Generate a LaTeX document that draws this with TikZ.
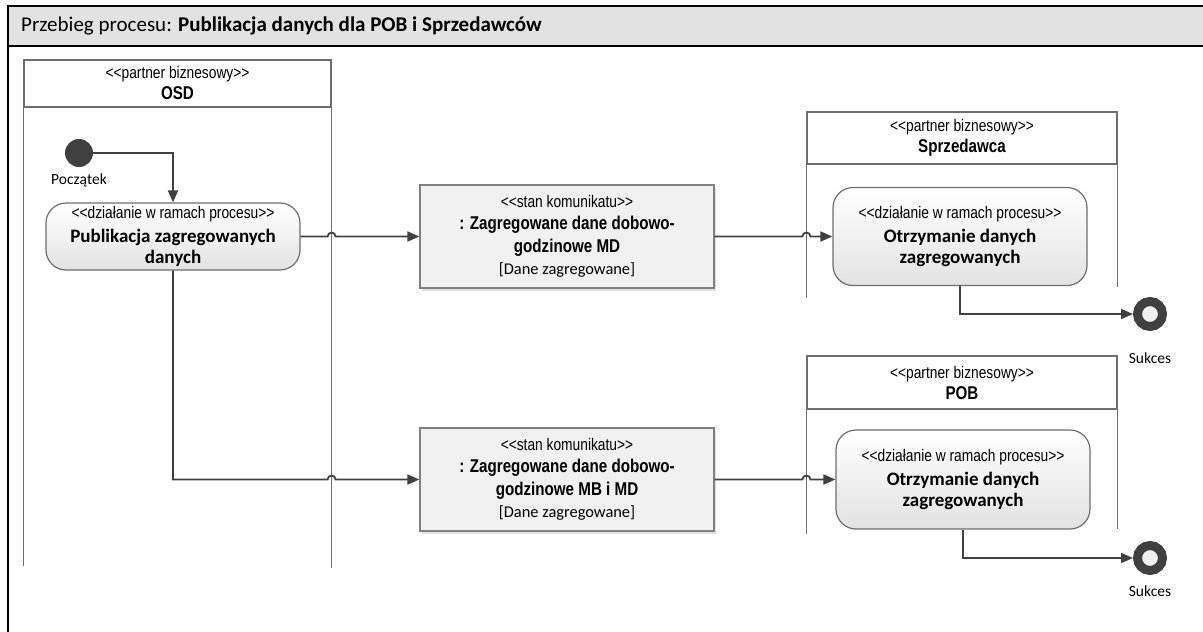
\documentclass[tikz,border=0pt]{standalone}
\usepackage{fontspec}
\setmainfont{Carlito}
\newfontfamily\narrowfont{Liberation Sans}[FakeStretch=0.82]
\usetikzlibrary{arrows.meta,shadows}

\definecolor{lineclr}{HTML}{404040}
\definecolor{laneclr}{HTML}{6E6E6E}
\definecolor{headclr}{HTML}{E2E2E2}
\definecolor{msgclr}{HTML}{F0F0F0}
\definecolor{actclr}{HTML}{E2E2E2}

\newcommand\stereo[1]{{\narrowfont\fontsize{16.8}{20}\selectfont <\kern0pt<#1>\kern0pt>}}
\newcommand\bnarrow{\narrowfont\bfseries\fontsize{18.5}{21}\selectfont}
\newcommand\bcalib{\bfseries\fontsize{19}{21}\selectfont}

\tikzset{
  lanehead/.style={draw=laneclr, line width=1.2pt, minimum width=307pt, minimum height=47pt,
    inner sep=0pt, align=center, font=\fontsize{18}{21}\selectfont},
  laneline/.style={draw=laneclr, line width=1.2pt},
  action/.style={draw=laneclr, line width=1.2pt, rounded corners=20pt, top color=white,
    bottom color=actclr, minimum width=254pt, inner sep=0pt, align=center,
    font=\fontsize{18}{21}\selectfont},
  msgbox/.style={draw=gray, line width=1.2pt, fill=msgclr, minimum width=294pt,
    minimum height=103pt, inner sep=0pt, align=center, font=\fontsize{18}{22.5}\selectfont,
    drop shadow={shadow xshift=2pt, shadow yshift=-3pt, fill=black!20, opacity=0.6}},
  flow/.style={draw=lineclr, line width=1.8pt, -{Triangle[length=12pt,width=10pt]}},
  startnode/.style={circle, fill=lineclr, minimum size=28pt, inner sep=0pt},
  endnode/.style={circle, draw=lineclr, line width=9pt, fill=msgclr, minimum size=25pt, inner sep=0pt},
  lbl/.style={font=\fontsize{15.5}{18}\selectfont, inner sep=0pt},
}

\begin{document}
\begin{tikzpicture}[x=1pt, y=-1pt]
\useasboundingbox (0,0) rectangle (1203,632);

% frame and title
\fill[headclr] (8,6) rectangle (1203,46);
\draw[line width=1.2pt] (1203,6) -- (8,6) -- (8,632);
\draw[line width=1.2pt] (8,46) -- (1203,46);
\node[anchor=west, inner sep=0pt, font=\fontsize{21}{24}\selectfont] (title) at (21,26)
  {Przebieg procesu: \textbf{Publikacja danych dla POB i Sprzedawców}};

% lanes
\node[lanehead] (osdH) at (177.5,83.5) {\stereo{partner biznesowy}\\{\bnarrow OSD}};
\node[lanehead, minimum width=310pt, minimum height=52pt] (sprH) at (962,138) {\stereo{partner biznesowy}\\{\bnarrow Sprzedawca}};
\node[lanehead, minimum width=310pt, minimum height=53pt] (pobH) at (962,382.5) {\stereo{partner biznesowy}\\{\bnarrow POB}};
\draw[laneline] (osdH.south west) -- ++(0,458);
\draw[laneline] (osdH.south east) -- ++(0,460);
\draw[laneline] (sprH.south west) -- ++(0,133);
\draw[laneline] (sprH.south east) -- ++(0,122);
\draw[laneline] (pobH.south west) -- ++(0,124);
\draw[laneline] (pobH.south east) -- ++(0,119);

% nodes
\node[startnode] (start) at (79,153) {};
\node[lbl] (startL) at (79,180) {Początek};
\node[action, minimum height=67pt] (pubA) at (173,236.5)
  {\stereo{działanie w ramach procesu}\\[3pt]{\bcalib Publikacja zagregowanych}\\{\bcalib danych}};
\node[msgbox] (msgA) at (567,236.5)
  {\stereo{stan komunikatu}\\{\bnarrow : Zagregowane dane dobowo-}\\{\bnarrow godzinowe MD}\\{\fontsize{16.4}{20}\selectfont [Dane zagregowane]}};
\node[msgbox] (msgB) at (567,479.5)
  {\stereo{stan komunikatu}\\{\bnarrow : Zagregowane dane dobowo-}\\{\bnarrow godzinowe MB i MD}\\{\fontsize{16.4}{20}\selectfont [Dane zagregowane]}};
\node[action, minimum height=98pt] (sprA) at (960,236.5)
  {\stereo{działanie w ramach procesu}\\[3pt]{\bcalib Otrzymanie danych}\\{\bcalib zagregowanych}};
\node[action, minimum height=99pt] (pobA) at (963,479.5)
  {\stereo{działanie w ramach procesu}\\[3pt]{\bcalib Otrzymanie danych}\\{\bcalib zagregowanych}};
\node[endnode] (endA) at (1150,314) {};
\node[lbl] (endAL) at (1150,358) {Sukces};
\node[endnode] (endB) at (1150,558) {};
\node[lbl] (endBL) at (1150,591) {Sukces};

% flows
\draw[flow] (start.east) -| (pubA.north);
\draw[flow] (pubA.east) -- ([xshift=-4pt]osdH.south east |- pubA.east)
  arc[start angle=180, end angle=0, radius=4pt] -- (msgA.west);
\draw[flow] (msgA.east) -- ([xshift=-4pt]sprH.south west |- msgA.east)
  arc[start angle=180, end angle=0, radius=4pt] -- (sprA.west);
\draw[flow] (pubA.south) -- (pubA.south |- msgB.west) -- ([xshift=-4pt]osdH.south east |- msgB.west)
  arc[start angle=180, end angle=0, radius=4pt] -- (msgB.west);
\draw[flow] (msgB.east) -- ([xshift=-4pt]pobH.south west |- msgB.east)
  arc[start angle=180, end angle=0, radius=4pt] -- (pobA.west);
\draw[flow] (sprA.south) |- (endA.west);
\draw[flow] (pobA.south) |- (endB.west);
\end{tikzpicture}
\end{document}
